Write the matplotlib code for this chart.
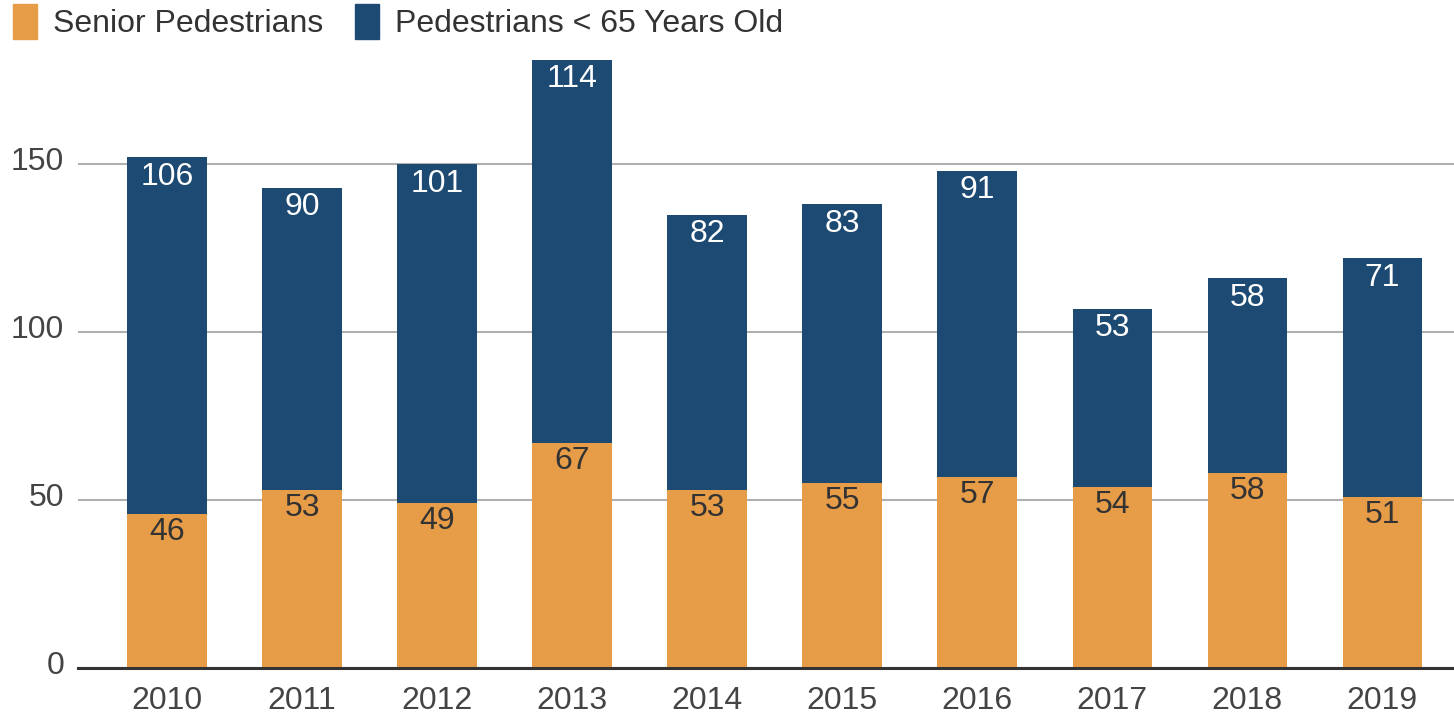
import matplotlib.pyplot as plt
import matplotlib.transforms as mtransforms
from matplotlib.patches import Patch

plt.rcParams['font.family'] = ['Liberation Sans', 'DejaVu Sans']

# Datos
years = ['2010', '2011', '2012', '2013', '2014', '2015', '2016', '2017', '2018', '2019']
senior = [46, 53, 49, 67, 53, 55, 57, 54, 58, 51]
under65 = [106, 90, 101, 114, 82, 83, 91, 53, 58, 71]

orange = '#E79C48'
blue = '#1D4A72'
text_grey = '#444444'

fig = plt.figure(figsize=(14.54, 7.19), dpi=100)
# 0 en y=668 px, 150 en y=164 px -> 3.36 px por unidad
ax = fig.add_axes([0.0536, 0.0709, 0.9464, 0.911])

x = range(len(years))
width = 0.59
ax.bar(x, senior, width, color=orange, zorder=3)
ax.bar(x, under65, width, bottom=senior, color=blue, zorder=3)

# Etiquetas dentro de las barras
for i in x:
    ax.annotate(str(senior[i]), (i, senior[i]), xytext=(0, -13),
                textcoords='offset points', ha='center', va='center',
                fontsize=23, color='#333333', zorder=4)
    ax.annotate(str(under65[i]), (i, senior[i] + under65[i]), xytext=(0, -14),
                textcoords='offset points', ha='center', va='center',
                fontsize=23, color='white', zorder=4)

ax.set_xlim(-0.66, 9.53)
ax.set_ylim(0, 195)
ax.set_yticks([0, 50, 100, 150])
ax.set_xticks(list(x))
ax.set_xticklabels(years)
ax.grid(axis='y', color='#b0b0b0', linewidth=1.5, zorder=0)
ax.tick_params(axis='both', length=0, labelsize=23, labelcolor=text_grey)
ax.tick_params(axis='y', pad=10)
ax.tick_params(axis='x', pad=13)

# Subir un poco las etiquetas del eje y
offset = mtransforms.ScaledTranslation(0, 6 / 100, fig.dpi_scale_trans)
for lab in ax.get_yticklabels():
    lab.set_transform(lab.get_transform() + offset)

for s in ['top', 'right', 'left']:
    ax.spines[s].set_visible(False)
ax.spines['bottom'].set_color('#333333')
ax.spines['bottom'].set_linewidth(2.2)
ax.spines['bottom'].set_zorder(5)

handles = [Patch(color=orange), Patch(color=blue)]
fig.legend(handles, ['Senior Pedestrians', 'Pedestrians < 65 Years Old'],
           loc='upper left', bbox_to_anchor=(-0.011, 1.034), ncol=2, frameon=False,
           fontsize=23, handlelength=0.75, handleheight=1.3, handletextpad=0.5,
           columnspacing=1.0, labelcolor='#333333')

fig.savefig('out.png', dpi=100)
